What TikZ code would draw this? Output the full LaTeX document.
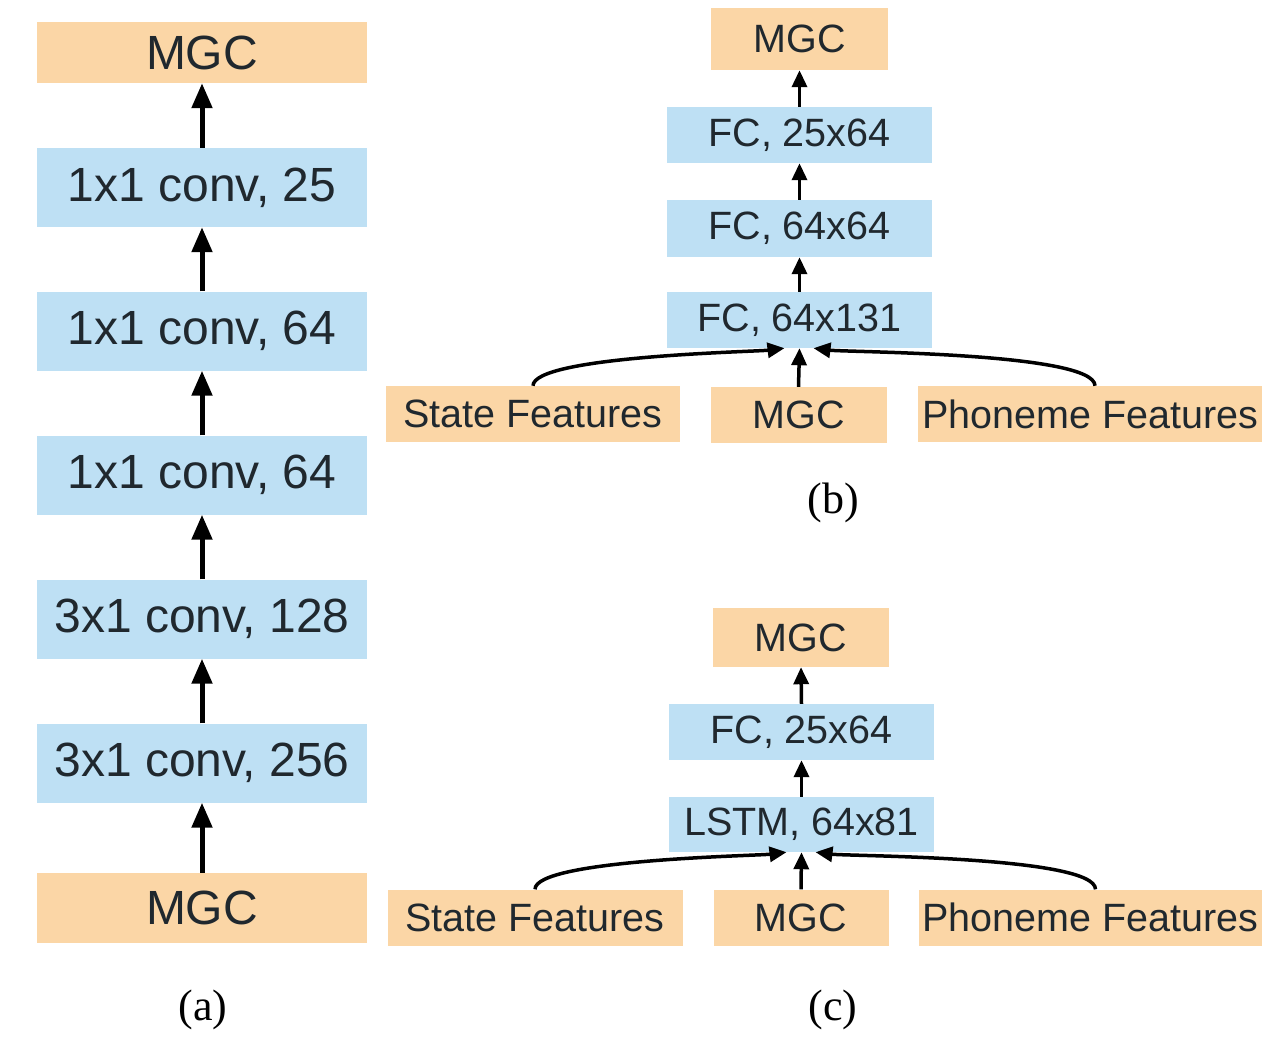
\documentclass[tikz,border=0pt]{standalone}
\usepackage{fontspec}
\setmainfont{Liberation Sans}
\newfontfamily\capfont{Liberation Serif}
\usetikzlibrary{arrows.meta}
\definecolor{mgcorange}{RGB}{251,214,166}
\definecolor{layerblue}{RGB}{190,224,244}
\definecolor{txtgray}{RGB}{32,40,46}
\tikzset{
  feat/.style={fill=mgcorange, inner sep=0pt, text=txtgray},
  layer/.style={fill=layerblue, inner sep=0pt, text=txtgray},
  bigtxt/.style={font=\fontsize{48}{52}\selectfont},
  smalltxt/.style={font=\fontsize{39.5}{44}\selectfont},
  arrbig/.style={-{Triangle[length=25pt,width=20pt]}, line width=5pt},
  arrsmall/.style={-{Triangle[length=17pt,width=15pt]}, line width=3.5pt},
  caption/.style={font=\capfont\fontsize{44}{48}\selectfont}
}
\begin{document}
\begin{tikzpicture}[x=1pt, y=-1pt]
    \useasboundingbox (0,0) rectangle (1262,1039);
    % (a)
    \node[feat, bigtxt, minimum width=330pt, minimum height=61pt] (a0) at (202,52.5) {MGC};
    \node[layer, bigtxt, minimum width=330pt, minimum height=79pt] (a1) at (202,187.5) {1x1 conv, 25};
    \node[layer, bigtxt, minimum width=330pt, minimum height=79pt] (a2) at (202,331) {1x1 conv, 64};
    \node[layer, bigtxt, minimum width=330pt, minimum height=79pt] (a3) at (202,475) {1x1 conv, 64};
    \node[layer, bigtxt, minimum width=330pt, minimum height=79pt] (a4) at (202,619) {3x1 conv, 128};
    \node[layer, bigtxt, minimum width=330pt, minimum height=79pt] (a5) at (202,763) {3x1 conv, 256};
    \node[feat, bigtxt, minimum width=330pt, minimum height=70pt] (a6) at (202,908) {MGC};
    \foreach \i/\j in {a6/a5, a5/a4, a4/a3, a3/a2, a2/a1, a1/a0}
        \draw[arrbig] (\i.north) -- (\j.south);
    \node[caption] (capa) at (203,1010) {(a)};
    % (b)
    \node[feat, smalltxt, minimum width=177pt, minimum height=62pt] (b0) at (799.5,39) {MGC};
    \node[layer, smalltxt, minimum width=265pt, minimum height=56pt] (b1) at (799.5,135) {FC, 25x64};
    \node[layer, smalltxt, minimum width=265pt, minimum height=57pt] (b2) at (799.5,228.5) {FC, 64x64};
    \node[layer, smalltxt, minimum width=265pt, minimum height=56pt] (b3) at (799.5,320) {FC, 64x131};
    \node[feat, smalltxt, minimum width=294pt, minimum height=56pt] (bsf) at (533,414) {State Features};
    \node[feat, smalltxt, minimum width=176pt, minimum height=56pt] (bmgc) at (798.5,415) {MGC};
    \node[feat, smalltxt, minimum width=344pt, minimum height=56pt] (bph) at (1090,414) {Phoneme Features};
    \foreach \i/\j in {b3/b2, b2/b1, b1/b0}
        \draw[arrsmall] (\i.north) -- (\j.south);
    \draw[arrsmall] (bmgc.north) -- (b3.south);
    \draw[arrsmall] (bsf.north) to[out=90, in=-173, looseness=0.3] ([xshift=-15pt]b3.south);
    \draw[arrsmall] ([xshift=5pt]bph.north) to[out=90, in=-7, looseness=0.3] ([xshift=14pt]b3.south);
    \node[caption] (capb) at (833,503) {(b)};
    % (c)
    \node[feat, smalltxt, minimum width=176pt, minimum height=59pt] (c0) at (801,637.5) {MGC};
    \node[layer, smalltxt, minimum width=265pt, minimum height=56pt] (c1) at (801.5,732) {FC, 25x64};
    \node[layer, smalltxt, minimum width=265pt, minimum height=55pt] (c2) at (801.5,824.5) {LSTM, 64x81};
    \node[feat, smalltxt, minimum width=295pt, minimum height=56pt] (csf) at (535,917.5) {State Features};
    \node[feat, smalltxt, minimum width=175pt, minimum height=56pt] (cmgc) at (801,917.5) {MGC};
    \node[feat, smalltxt, minimum width=343pt, minimum height=56pt] (cph) at (1090.5,917.5) {Phoneme Features};
    \foreach \i/\j in {c2/c1, c1/c0}
        \draw[arrsmall] (\i.north) -- (\j.south);
    \draw[arrsmall] (cmgc.north) -- (c2.south);
    \draw[arrsmall] (csf.north) to[out=90, in=-173, looseness=0.3] ([xshift=-15pt]c2.south);
    \draw[arrsmall] ([xshift=5pt]cph.north) to[out=90, in=-7, looseness=0.3] ([xshift=14pt]c2.south);
    \node[caption] (capc) at (833,1010) {(c)};
\end{tikzpicture}
\end{document}
